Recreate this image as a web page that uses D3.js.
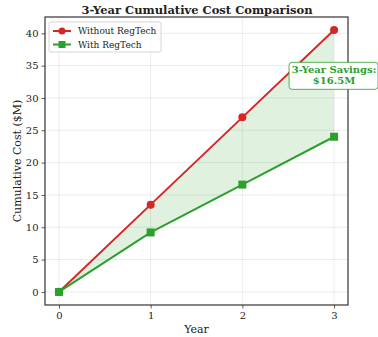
<!DOCTYPE html>
<html lang="en">
<head>
<meta charset="UTF-8">
<title>3-Year Cumulative Cost Comparison</title>
<script src="https://d3js.org/d3.v7.min.js"></script>
<style>
  body { margin: 0; background: #fff; }
  text { font-family: "DejaVu Serif", serif; fill: #222; }
</style>
</head>
<body>
<script>
var years = [0, 1, 2, 3];
var withoutRegTech = [0, 13.5, 27.0, 40.5];
var withRegTech = [0, 9.2, 16.6, 24.0];
var yTicks = [0, 5, 10, 15, 20, 25, 30, 35, 40];
var savingsLabel = ["3-Year Savings:", "$16.5M"];

var width = 378, height = 337;
var margin = {left: 45, right: 30, top: 17, bottom: 32};
var red = "#d62728", green = "#2ca02c";

var svg = d3.select("body").append("svg")
  .attr("width", width).attr("height", height);

var x = d3.scaleLinear().domain([-0.152, 3.152]).range([margin.left, width - margin.right]);
var y = d3.scaleLinear().domain([-2.025, 42.525]).range([height - margin.bottom, margin.top]);

// grid
svg.append("g").selectAll("line").data(years).join("line")
  .attr("x1", d => x(d)).attr("x2", d => x(d))
  .attr("y1", y.range()[1]).attr("y2", y.range()[0])
  .attr("stroke", "#b0b0b0").attr("stroke-opacity", 0.3).attr("stroke-width", 0.8);
svg.append("g").selectAll("line").data(yTicks).join("line")
  .attr("x1", x.range()[0]).attr("x2", x.range()[1])
  .attr("y1", d => y(d)).attr("y2", d => y(d))
  .attr("stroke", "#b0b0b0").attr("stroke-opacity", 0.3).attr("stroke-width", 0.8);

// fill between
var area = d3.area()
  .x((d, i) => x(years[i]))
  .y0((d, i) => y(withRegTech[i]))
  .y1(d => y(d));
svg.append("path").attr("d", area(withoutRegTech))
  .attr("fill", green).attr("fill-opacity", 0.15);

var line = d3.line().x((d, i) => x(years[i])).y(d => y(d));
svg.append("path").attr("d", line(withoutRegTech))
  .attr("fill", "none").attr("stroke", red).attr("stroke-width", 2);
svg.append("path").attr("d", line(withRegTech))
  .attr("fill", "none").attr("stroke", green).attr("stroke-width", 2);

svg.append("g").selectAll("circle").data(withoutRegTech).join("circle")
  .attr("cx", (d, i) => x(years[i])).attr("cy", d => y(d)).attr("r", 4)
  .attr("fill", red);
svg.append("g").selectAll("rect").data(withRegTech).join("rect")
  .attr("x", (d, i) => x(years[i]) - 4).attr("y", d => y(d) - 4)
  .attr("width", 8).attr("height", 8).attr("fill", green);

// axes
var xAxis = svg.append("g")
  .attr("transform", "translate(0," + y.range()[0] + ")")
  .call(d3.axisBottom(x).tickValues(years).tickFormat(d3.format("d")).tickSize(3.5).tickPadding(3));
var yAxis = svg.append("g")
  .attr("transform", "translate(" + x.range()[0] + ",0)")
  .call(d3.axisLeft(y).tickValues(yTicks).tickSize(3.5).tickPadding(3));
[xAxis, yAxis].forEach(function(a) {
  a.select(".domain").remove();
  a.selectAll("text").style("font-family", "DejaVu Serif, serif").style("font-size", "10px").attr("fill", "#222");
  a.selectAll("line").attr("stroke", "#333").attr("stroke-width", 0.8);
});

// frame
svg.append("rect")
  .attr("x", x.range()[0]).attr("y", y.range()[1])
  .attr("width", x.range()[1] - x.range()[0]).attr("height", y.range()[0] - y.range()[1])
  .attr("fill", "none").attr("stroke", "#333").attr("stroke-width", 1.2);

// labels
svg.append("text").attr("x", width / 2 + 8).attr("y", 14)
  .attr("text-anchor", "middle").style("font-size", "11.5px").style("font-weight", "bold")
  .text("3-Year Cumulative Cost Comparison");
svg.append("text").attr("x", (x.range()[0] + x.range()[1]) / 2).attr("y", 333)
  .attr("text-anchor", "middle").style("font-size", "11px").text("Year");
svg.append("text")
  .attr("transform", "translate(21," + (y.range()[0] + y.range()[1]) / 2 + ") rotate(-90)")
  .attr("text-anchor", "middle").style("font-size", "11px").text("Cumulative Cost ($M)");

// legend
var lg = svg.append("g").attr("transform", "translate(49,22)");
lg.append("rect").attr("width", 112).attr("height", 30).attr("rx", 2)
  .attr("fill", "#fff").attr("fill-opacity", 0.8).attr("stroke", "#ccc").attr("stroke-width", 0.8);
var entries = [{name: "Without RegTech", color: red, shape: "circle"}, {name: "With RegTech", color: green, shape: "square"}];
entries.forEach(function(e, i) {
  var gy = 9 + i * 13.5;
  lg.append("line").attr("x1", 4).attr("x2", 22).attr("y1", gy).attr("y2", gy)
    .attr("stroke", e.color).attr("stroke-width", 2);
  if (e.shape === "circle") {
    lg.append("circle").attr("cx", 13).attr("cy", gy).attr("r", 3.5).attr("fill", e.color);
  } else {
    lg.append("rect").attr("x", 9.5).attr("y", gy - 3.5).attr("width", 7).attr("height", 7).attr("fill", e.color);
  }
  lg.append("text").attr("x", 29).attr("y", gy + 3.3).style("font-size", "9px").text(e.name);
});

// annotation
var ax = x(3), ay = y(33.5);
var ag = svg.append("g");
ag.append("rect").attr("x", ax - 45).attr("y", ay - 13).attr("width", 89).attr("height", 27).attr("rx", 3)
  .attr("fill", "#fff").attr("stroke", green).attr("stroke-opacity", 0.8).attr("stroke-width", 1);
savingsLabel.forEach(function(t, i) {
  ag.append("text").attr("x", ax).attr("y", ay - 2 + i * 11).attr("text-anchor", "middle")
    .style("font-size", "10px").style("font-weight", "bold").style("fill", green).text(t);
});
</script>
</body>
</html>
